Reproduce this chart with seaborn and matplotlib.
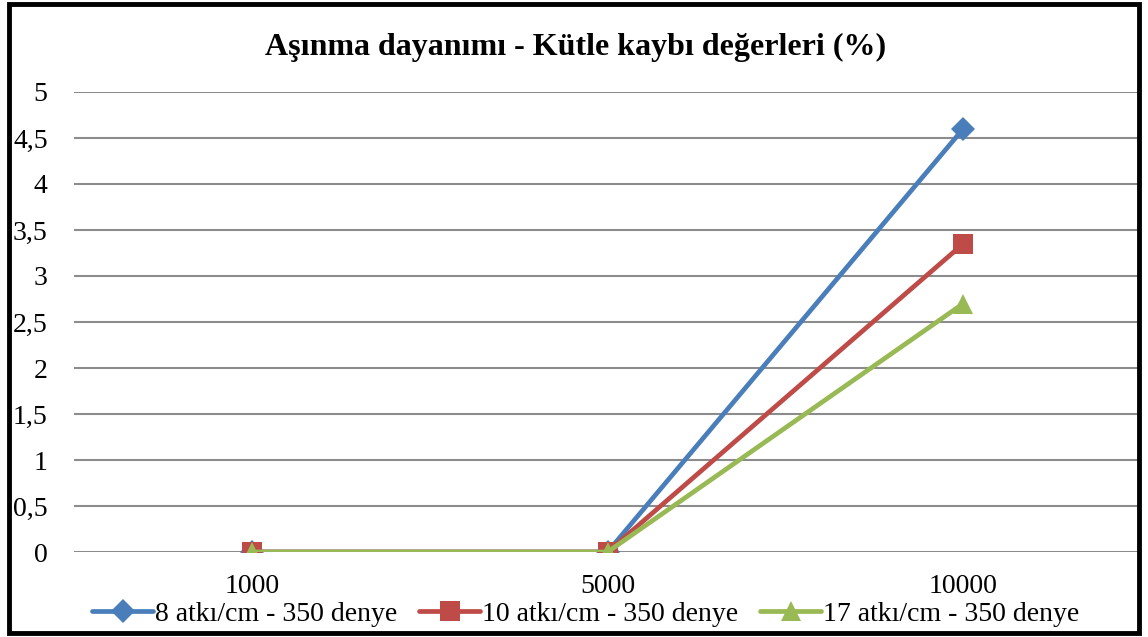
import matplotlib
matplotlib.use("Agg")
import matplotlib.pyplot as plt
import matplotlib.patches as mpatches
import pandas as pd
import seaborn as sns

categories = ["1000", "5000", "10000"]
series_names = [
    "8 atkı/cm - 350 denye",
    "10 atkı/cm - 350 denye",
    "17 atkı/cm - 350 denye",
]
values_8 = [0, 0, 4.6]
values_10 = [0, 0, 3.35]
values_17 = [0, 0, 2.7]
y_ticks = [0, 0.5, 1, 1.5, 2, 2.5, 3, 3.5, 4, 4.5, 5]

colors = ["#4A7EBB", "#BE4B48", "#98B954"]
markers = ["D", "s", "^"]
marker_sizes = [12, 14, 15]

sns.set_theme(style="white")
plt.rcParams["font.family"] = ["Liberation Serif", "DejaVu Serif"]
plt.rcParams["text.color"] = "black"

rows = []
for name, vals in zip(series_names, [values_8, values_10, values_17]):
    for i, v in enumerate(vals):
        rows.append({"pos": i, "val": v, "seri": name})
df = pd.DataFrame(rows)

fig = plt.figure(figsize=(11.48, 6.37), dpi=100)
ax = fig.add_axes([0.0645, 0.1334, 0.9294, 0.7222])

for name, c, m, ms in zip(series_names, colors, markers, marker_sizes):
    sub = df[df["seri"] == name]
    sns.lineplot(data=sub, x="pos", y="val", ax=ax, color=c, linewidth=3.4,
                 marker=m, markersize=ms, markeredgewidth=0, label=name,
                 sort=False, zorder=3)

ax.set_xlim(-0.5, 2.5)
ax.set_ylim(0, 5)
ax.set_yticks(y_ticks)
ax.set_yticklabels([f"{t:g}".replace(".", ",") for t in y_ticks], fontsize=20)
ax.set_xticks(range(len(categories)))
ax.set_xticklabels(categories, fontsize=20)
ax.tick_params(axis="both", length=0, colors="black")
ax.tick_params(axis="y", pad=19)
ax.tick_params(axis="x", pad=16)
for sp in ax.spines.values():
    sp.set_visible(False)
ax.yaxis.grid(True, color="#8C8C8C", linewidth=1.5)
ax.xaxis.grid(False)
ax.set_axisbelow(True)
ax.set_xlabel("")
ax.set_ylabel("")

fig.text(0.501, 0.926, "Aşınma dayanımı - Kütle kaybı değerleri (%)",
         ha="center", va="center", fontsize=23, fontweight="bold", color="black")

ax.legend(loc="center", bbox_to_anchor=(0.51, 0.036), bbox_transform=fig.transFigure,
          ncol=3, frameon=False, fontsize=20, handlelength=2.2, handletextpad=0.05,
          columnspacing=0.8, borderaxespad=0, labelcolor="black")

fig.patches.append(mpatches.Rectangle((0.0075, 0.006), 0.985, 0.988,
                                      transform=fig.transFigure, fill=False,
                                      edgecolor="black", linewidth=3.5))

fig.savefig("out.png", dpi=100)
